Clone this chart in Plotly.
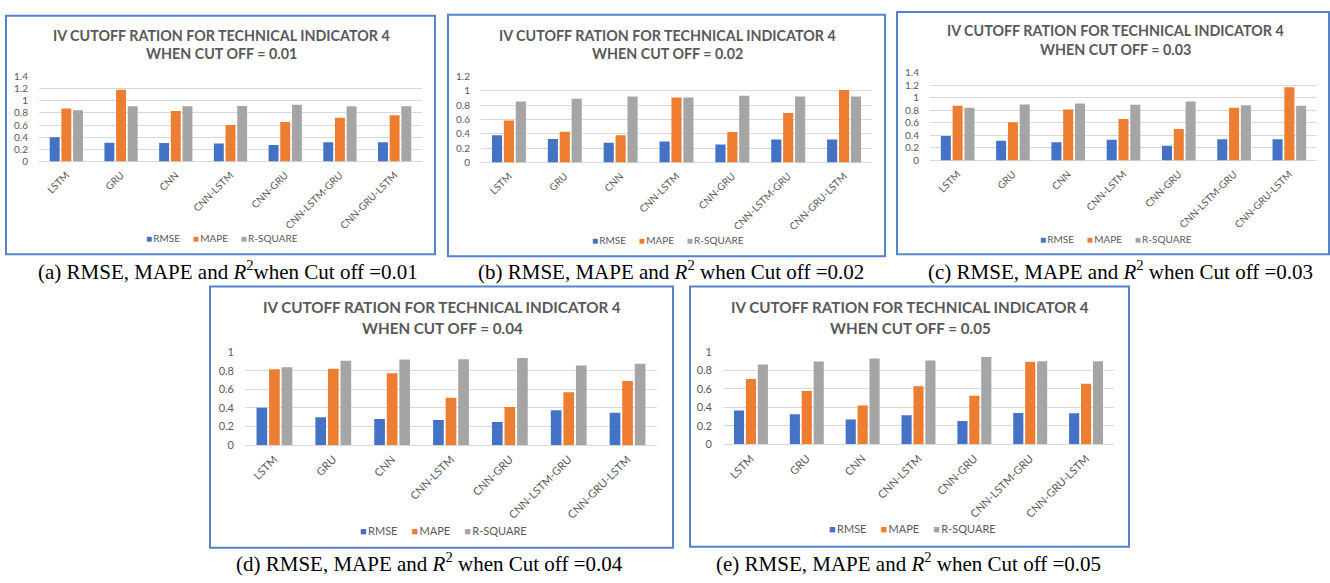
import plotly.graph_objects as go

categories = ["LSTM", "GRU", "CNN", "CNN-LSTM", "CNN-GRU", "CNN-LSTM-GRU", "CNN-GRU-LSTM"]
series_names = ["RMSE", "MAPE", "R-SQUARE"]
cutoffs = ["0.01", "0.02", "0.03", "0.04", "0.05"]
panel_letters = ["a", "b", "c", "d", "e"]

rmse_001 = [0.40, 0.31, 0.305, 0.295, 0.27, 0.315, 0.315]
mape_001 = [0.87, 1.18, 0.83, 0.60, 0.65, 0.72, 0.76]
r2_001 = [0.845, 0.91, 0.91, 0.915, 0.935, 0.91, 0.91]

rmse_002 = [0.38, 0.326, 0.276, 0.294, 0.25, 0.32, 0.32]
mape_002 = [0.585, 0.43, 0.38, 0.905, 0.425, 0.69, 1.01]
r2_002 = [0.85, 0.89, 0.92, 0.905, 0.93, 0.92, 0.92]

rmse_003 = [0.39, 0.316, 0.29, 0.33, 0.233, 0.337, 0.34]
mape_003 = [0.87, 0.61, 0.81, 0.66, 0.50, 0.84, 1.166]
r2_003 = [0.84, 0.89, 0.905, 0.886, 0.94, 0.88, 0.87]

rmse_004 = [0.40, 0.30, 0.28, 0.27, 0.247, 0.373, 0.348]
mape_004 = [0.815, 0.82, 0.773, 0.51, 0.41, 0.568, 0.69]
r2_004 = [0.836, 0.906, 0.92, 0.924, 0.937, 0.857, 0.875]

rmse_005 = [0.366, 0.324, 0.268, 0.313, 0.25, 0.338, 0.335]
mape_005 = [0.708, 0.577, 0.42, 0.63, 0.525, 0.894, 0.655]
r2_005 = [0.866, 0.898, 0.93, 0.908, 0.947, 0.90, 0.90]

y_max = [1.4, 1.2, 1.4, 1.0, 1.0]

data = [
    (rmse_001, mape_001, r2_001),
    (rmse_002, mape_002, r2_002),
    (rmse_003, mape_003, r2_003),
    (rmse_004, mape_004, r2_004),
    (rmse_005, mape_005, r2_005),
]

colors = ["#4472C4", "#ED7D31", "#A5A5A5"]

W, H = 1330, 583

# layout geometry (pixels)
boxes = [(6, 9, 435, 253), (448, 8, 885, 255), (897, 5, 1329, 253),
         (210, 286, 673, 553), (690, 286, 1129, 552)]
plots = [(39, 422, 71, 158), (481, 872, 71, 159), (930, 1317, 67, 157),
         (245, 657, 353, 448), (723, 1114, 353, 447)]
title_x = [221, 667, 1115, 442, 910]
title_y = [29, 29, 24, 307, 307]
title_gap = [19, 19, 19, 21, 21]
title_size = [14.3, 14.3, 14.3, 15.2, 15.2]
legend_y = [236, 238, 237, 535, 533]
legend_x = [222, 668, 1116, 443, 912]
caption_x = [228, 671, 1120, 429, 908]
caption_y = [270, 270, 270, 568, 568]
tick_size = [10, 10, 10, 11, 11]


def px(x):
    return x / W


def py(y):
    return 1 - y / H


fig = go.Figure()
layout = {}
annotations = []
shapes = []

for i in range(5):
    n = "" if i == 0 else str(i + 1)
    xa = "x" + n
    ya = "y" + n
    for j, vals in enumerate(data[i]):
        fig.add_trace(go.Bar(x=categories, y=vals, name=series_names[j],
                             marker=dict(color=colors[j], line=dict(width=0)),
                             xaxis=xa, yaxis=ya, showlegend=False))
    x0, x1, yt, yb = plots[i]
    layout["xaxis" + n] = dict(domain=[px(x0), px(x1)], anchor=ya, tickangle=-45,
                               tickfont=dict(family="Lato", size=tick_size[i], color="#595959"),
                               showgrid=False, zeroline=False, showline=False, ticks="",
                               ticklabelstandoff=5, fixedrange=True)
    layout["yaxis" + n] = dict(domain=[py(yb), py(yt)], anchor=xa, range=[0, y_max[i]],
                               dtick=0.2, tick0=0, showgrid=True, gridcolor="#D9D9D9",
                               gridwidth=1, zeroline=True, zerolinecolor="#D9D9D9",
                               zerolinewidth=1, showline=False, ticks="",
                               ticklabelstandoff=10,
                               tickfont=dict(family="Lato", size=tick_size[i], color="#595959"),
                               fixedrange=True)
    bx0, by0, bx1, by1 = boxes[i]
    shapes.append(dict(type="rect", xref="paper", yref="paper",
                       x0=px(bx0), x1=px(bx1), y0=py(by1), y1=py(by0),
                       line=dict(color="#5585C8", width=2), fillcolor="rgba(0,0,0,0)"))
    annotations.append(dict(text="<b>IV CUTOFF RATION FOR TECHNICAL INDICATOR 4</b>",
                            x=px(title_x[i]), y=py(title_y[i]), xref="paper", yref="paper",
                            showarrow=False, xanchor="center", yanchor="middle",
                            font=dict(family="Lato", size=title_size[i], color="#595959")))
    annotations.append(dict(text="<b>WHEN CUT OFF = " + cutoffs[i] + "</b>",
                            x=px(title_x[i]), y=py(title_y[i] + title_gap[i]), xref="paper", yref="paper",
                            showarrow=False, xanchor="center", yanchor="middle",
                            font=dict(family="Lato", size=title_size[i], color="#595959")))
    sep = "\u00a0" * 5
    leg = sep.join(
        "<span style='color:%s'>■</span>\u2009%s" % (colors[j], series_names[j]) for j in range(3))
    annotations.append(dict(text=leg, x=px(legend_x[i]), y=py(legend_y[i]), xref="paper", yref="paper",
                            showarrow=False, xanchor="center", yanchor="middle",
                            font=dict(family="Lato", size=tick_size[i], color="#595959")))
    cap = "(%s) RMSE, MAPE and <i>R</i><sup>2</sup>%swhen Cut off =%s" % (
        panel_letters[i], "" if i == 0 else " ", cutoffs[i])
    annotations.append(dict(text=cap, x=px(caption_x[i]), y=py(caption_y[i]), xref="paper", yref="paper",
                            showarrow=False, xanchor="center", yanchor="middle",
                            font=dict(family="Liberation Serif", size=21, color="#000000")))

fig.update_layout(width=W, height=H, margin=dict(l=0, r=0, t=0, b=0),
                  paper_bgcolor="white", plot_bgcolor="white",
                  barmode="group", bargap=0.36, bargroupgap=0.15,
                  annotations=annotations, shapes=shapes, showlegend=False,
                  **layout)

fig.write_html("out.html", config={"displayModeBar": False},
               post_script="document.body.style.margin='0';document.body.style.overflow='hidden';")
